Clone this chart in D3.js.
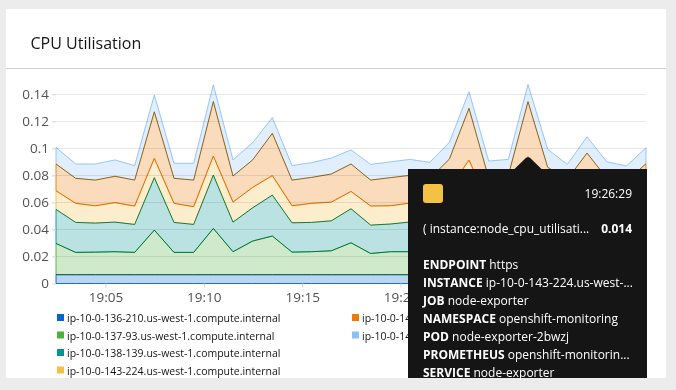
<!DOCTYPE html>
<html><head><meta charset="utf-8">
<script src="https://cdn.jsdelivr.net/npm/d3@7"></script>
<style>
html,body{margin:0;padding:0;background:#ececec;}
svg{display:block;font-family:"Open Sans",sans-serif;}
</style></head>
<body>
<svg id="c" width="676" height="390"></svg>
<script>
// ---- data ----
const times = ["19:02:29","19:03:29","19:04:29","19:05:29","19:06:29","19:07:29","19:08:29","19:09:29","19:10:29","19:11:29",
  "19:12:29","19:13:29","19:14:29","19:15:29","19:16:29","19:17:29","19:18:29","19:19:29","19:20:29","19:21:29",
  "19:22:29","19:23:29","19:24:29","19:25:29","19:26:29","19:27:29","19:28:29","19:29:29","19:30:29","19:31:29","19:32:29"];
const seriesNames = [
  "ip-10-0-136-210.us-west-1.compute.internal",
  "ip-10-0-137-93.us-west-1.compute.internal",
  "ip-10-0-138-139.us-west-1.compute.internal",
  "ip-10-0-143-224.us-west-1.compute.internal",
  "ip-10-0-147-53.us-west-1.compute.internal",
  "ip-10-0-148-199.us-west-1.compute.internal"
];
const s136_210 = [0.0065,0.0065,0.0065,0.0065,0.0065,0.0065,0.0065,0.0065,0.0065,0.0065,0.0065,0.0065,0.0065,0.0065,0.0065,0.0065,
  0.0065,0.0065,0.0065,0.0065,0.0065,0.0065,0.0065,0.0065,0.0065,0.0065,0.0065,0.0065,0.0065,0.0065,0.0065];
const s137_93 = [0.0231,0.0165,0.0167,0.0170,0.0165,0.0330,0.0165,0.0165,0.0342,0.0170,0.0249,0.0286,0.0167,0.0170,0.0177,0.0236,
  0.0157,0.0170,0.0170,0.0165,0.0240,0.0325,0.0165,0.0170,0.0345,0.0210,0.0165,0.0260,0.0170,0.0162,0.0230];
const s138_139 = [0.0252,0.0222,0.0215,0.0219,0.0207,0.0388,0.0222,0.0207,0.0395,0.0219,0.0246,0.0303,0.0217,0.0217,0.0222,0.0252,
  0.0210,0.0205,0.0220,0.0215,0.0250,0.0385,0.0220,0.0220,0.0388,0.0240,0.0215,0.0290,0.0215,0.0210,0.0250];
const s143_224 = [0.0138,0.0141,0.0128,0.0144,0.0136,0.0143,0.0141,0.0131,0.0141,0.0148,0.0151,0.0144,0.0126,0.0141,0.0138,0.0128,
  0.0141,0.0135,0.0140,0.0135,0.0145,0.0138,0.0140,0.0145,0.0140,0.0140,0.0135,0.0140,0.0135,0.0130,0.0140];
const s147_53 = [0.0198,0.0185,0.0190,0.0195,0.0192,0.0344,0.0185,0.0197,0.0403,0.0193,0.0203,0.0313,0.0190,0.0192,0.0208,0.0203,
  0.0192,0.0208,0.0205,0.0195,0.0220,0.0383,0.0190,0.0200,0.0407,0.0205,0.0190,0.0210,0.0195,0.0190,0.0201];
const s148_199 = [0.0123,0.0106,0.0119,0.0121,0.0107,0.0125,0.0111,0.0124,0.0124,0.0119,0.0128,0.0116,0.0107,0.0109,0.0118,0.0104,
  0.0116,0.0117,0.0118,0.0121,0.0124,0.0123,0.0126,0.0118,0.0127,0.0133,0.0111,0.0121,0.0121,0.0112,0.0118];
const yTicks = [0,0.02,0.04,0.06,0.08,0.1,0.12,0.14];
const yTickLabels = ["0","0.02","0.04","0.06","0.08","0.1","0.12","0.14"];
const xTicks = ["19:05:00","19:10:00","19:15:00","19:20:00","19:25:00","19:30:00"];
const tooltipTime = "19:26:29";
const tooltipSeries = 3;
const tooltipMetric = "( instance:node_cpu_utilisati...";
const tooltipLabels = [["ENDPOINT","https"],["INSTANCE","ip-10-0-143-224.us-west-..."],["JOB","node-exporter"],
  ["NAMESPACE","openshift-monitoring"],["POD","node-exporter-2bwzj"],["PROMETHEUS","openshift-monitorin..."],["SERVICE","node-exporter"]];

const colors = ["#0066cc","#4cb140","#009596","#f4c145","#ec7a08","#8bc1f7"];

// ---- build ----
const parse = d3.timeParse("%H:%M:%S");
const allSeries = [s136_210,s137_93,s138_139,s143_224,s147_53,s148_199];
const rows = times.map((t,i)=>{const r={t:parse(t)}; allSeries.forEach((s,k)=>r["k"+k]=s[i]); return r;});
const keys = allSeries.map((s,k)=>"k"+k);
const stacked = d3.stack().keys(keys)(rows);
const maxY = d3.max(stacked[stacked.length-1], d=>d[1]);

const svg = d3.select("#c");
// card
svg.append("rect").attr("x",6).attr("y",9).attr("width",660).attr("height",369).attr("fill","#fff");
svg.append("line").attr("x1",6).attr("x2",666).attr("y1",68.5).attr("y2",68.5).attr("stroke","#d2d2d2");
svg.append("text").attr("x",30.5).attr("y",49).text("CPU Utilisation")
  .attr("font-size",16).attr("fill","#151515");

const x = d3.scaleTime().domain(d3.extent(rows,d=>d.t)).range([56,646]);
const y = d3.scaleLinear().domain([0,maxY]).range([283.5,84.5]);

// grid
svg.append("g").selectAll("line").data(yTicks.filter(v=>v>0)).join("line")
  .attr("x1",56).attr("x2",646).attr("y1",d=>Math.round(y(d))+0.5).attr("y2",d=>Math.round(y(d))+0.5)
  .attr("stroke","#e8e8e8");

// areas
const area = d3.area().x(d=>x(d.data.t)).y0(d=>y(d[0])).y1(d=>y(d[1]));
svg.append("g").selectAll("path").data(stacked).join("path")
  .attr("d",area)
  .attr("fill",(d,i)=>colors[i]).attr("fill-opacity",0.27)
  .attr("stroke",(d,i)=>colors[i]).attr("stroke-width",1).attr("stroke-opacity",0.9)
  .style("mix-blend-mode","multiply");

// axes
const yAxis = svg.append("g").attr("transform","translate(56,0)")
  .call(d3.axisLeft(y).tickValues(yTicks).tickSize(4).tickPadding(3).tickFormat((d,i)=>yTickLabels[i]));
const xAxis = svg.append("g").attr("transform","translate(0,283.5)")
  .call(d3.axisBottom(x).tickValues(xTicks.map(parse)).tickSize(4).tickPadding(5).tickFormat(d3.timeFormat("%H:%M")));
[yAxis,xAxis].forEach(a=>{
  a.select(".domain").remove();
  a.selectAll(".tick line").attr("stroke","#d2d2d2");
  a.selectAll(".tick text").attr("font-size",13.5).attr("fill","#4f5255").attr("font-family","Open Sans");
});

// legend
const leg = svg.append("g").attr("font-size",10.5).attr("fill","#151515");
const legPos = [[57,318],[57,335.5],[57,353],[57,370.5],[352,318],[352,335.5]];
const legOrder = [0,1,2,3,4,5];
legOrder.forEach((k,j)=>{
  const [lx,ly]=legPos[j];
  leg.append("rect").attr("x",lx).attr("y",ly-4).attr("width",7).attr("height",7).attr("fill",colors[k]);
  leg.append("text").attr("x",lx+10).attr("y",ly+4).text(seriesNames[k]).attr("fill","#151515");
});

// tooltip
const tx = x(parse(tooltipTime));
const tt = svg.append("g").attr("font-size",12);
tt.append("rect").attr("x",408).attr("y",169).attr("width",239).attr("height",209).attr("fill","#151515");
tt.append("path").attr("d",`M${tx-14},169.5 L${tx-2},157.8 Q${tx},156.5 ${tx+2},157.8 L${tx+14},169.5 Z`).attr("fill","#151515");
tt.append("rect").attr("x",423).attr("y",184).attr("width",20).attr("height",19).attr("rx",3).attr("fill",colors[tooltipSeries]);
tt.append("text").attr("x",632).attr("y",197.5).attr("text-anchor","end").attr("fill","#fff").text(tooltipTime);
tt.append("text").attr("x",423).attr("y",233).attr("fill","#fff").text(tooltipMetric);
tt.append("text").attr("x",632).attr("y",233).attr("text-anchor","end").attr("fill","#fff")
  .attr("font-weight",700).text(d3.format(".3f")(allSeries[tooltipSeries][times.indexOf(tooltipTime)]));
tooltipLabels.forEach(([k,v],j)=>{
  const t = tt.append("text").attr("x",423).attr("y",268.5+j*18).attr("fill","#fff");
  t.append("tspan").attr("font-weight",700).text(k);
  t.append("tspan").text(" "+v);
});
</script>
</body></html>
